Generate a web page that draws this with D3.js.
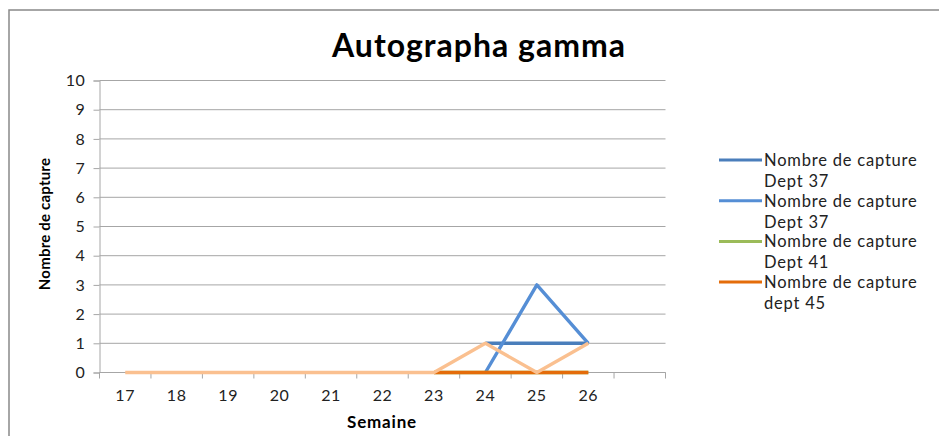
<!DOCTYPE html>
<html><head><meta charset="utf-8">
<script src="https://cdn.jsdelivr.net/npm/d3@7/dist/d3.min.js"></script>
<style>body{margin:0;background:#fff}</style>
</head><body>
<svg id="c" width="939" height="436"></svg>
<script>
const categories = ["17","18","19","20","21","22","23","24","25","26",""];
const yTicks = [0,1,2,3,4,5,6,7,8,9,10];
const dept37a = [null,null,null,null,null,null,null,1,1,1,null];
const dept37b = [null,null,null,null,null,null,null,0,3,1,null];
const dept41  = [null,null,null,null,null,null,0,0,0,0,null];
const dept45  = [null,null,null,null,null,null,0,0,0,0,null];
const extra   = [0,0,0,0,0,0,0,1,0,1,null];
const seriesNames = ["Nombre de capture|Dept 37","Nombre de capture|Dept 37","Nombre de capture|Dept 41","Nombre de capture|dept 45"];
const colors = ["#4A7EBB","#558ED5","#9BBB59","#E46C0A","#FAC090"];

const svg = d3.select("#c");
const font = "Lato, 'Open Sans', sans-serif";
svg.append("rect").attr("x",9).attr("y",10).attr("width",940).attr("height",440)
  .attr("fill","#fff").attr("stroke","#898989").attr("stroke-width",1.5);

const x = d3.scaleBand().domain(categories).range([99.5,665.5]);
const y = d3.scaleLinear().domain([0,10]).range([372.5,80.5]);

svg.append("g").selectAll("line").data(yTicks).join("line")
  .attr("x1",99.5).attr("x2",665.5).attr("y1",d=>y(d)).attr("y2",d=>y(d))
  .attr("stroke","#A6A6A6").attr("stroke-width",1);

const ya = svg.append("g").attr("transform","translate(99.5,0)")
  .call(d3.axisLeft(y).tickValues(yTicks).tickSize(6).tickPadding(8));
ya.select(".domain").attr("stroke","#A6A6A6");
ya.selectAll(".tick line").attr("stroke","#A6A6A6");
ya.selectAll("text").attr("font-family",font).attr("font-size",16).attr("letter-spacing",0.6).attr("fill","#222");

const xa = svg.append("g").attr("transform","translate(0,372.5)")
  .call(d3.axisBottom(x).tickSize(0).tickPadding(17));
xa.select(".domain").remove();
xa.selectAll("text").attr("font-family",font).attr("font-size",16).attr("letter-spacing",0.6).attr("fill","#222");
const bounds = categories.map(c=>x(c)).concat([x(categories[categories.length-1])+x.bandwidth()]);
svg.append("g").selectAll("line").data(bounds).join("line")
  .attr("x1",d=>d).attr("x2",d=>d).attr("y1",372.5).attr("y2",378.5)
  .attr("stroke","#A6A6A6");
svg.append("line").attr("x1",99.5).attr("x2",665.5).attr("y1",372.5).attr("y2",372.5).attr("stroke","#A6A6A6");

const line = d3.line().defined(d=>d.v!==null).x(d=>x(d.c)+x.bandwidth()/2).y(d=>y(d.v));
[dept37a,dept37b,dept41,dept45,extra].forEach((s,i)=>{
  svg.append("path").datum(s.map((v,j)=>({c:categories[j],v})))
    .attr("d",line).attr("fill","none").attr("stroke",colors[i]).attr("stroke-width",3.4)
    .attr("stroke-linejoin","round");
});

svg.append("text").attr("x",479).attr("y",57).attr("text-anchor","middle")
  .attr("font-family",font).attr("font-weight","bold").attr("font-size",32).attr("letter-spacing",1).attr("fill","#000")
  .text("Autographa gamma");
svg.append("text").attr("transform","translate(50,224) rotate(-90)").attr("text-anchor","middle")
  .attr("font-family",font).attr("font-weight","bold").attr("font-size",15).attr("letter-spacing",0.2).text("Nombre de capture");
svg.append("text").attr("x",382).attr("y",428).attr("text-anchor","middle")
  .attr("font-family",font).attr("font-weight","bold").attr("font-size",17).attr("letter-spacing",0.8).text("Semaine");

const lg = svg.append("g");
seriesNames.forEach((n,i)=>{
  const yy = 160 + i*40.7;
  lg.append("line").attr("x1",719).attr("x2",762).attr("y1",yy).attr("y2",yy)
    .attr("stroke",colors[i]).attr("stroke-width",3);
  const parts = n.split("|");
  const t = lg.append("text").attr("font-family",font).attr("font-size",16.5).attr("letter-spacing",0.8).attr("fill","#222");
  t.append("tspan").attr("x",764).attr("y",yy+6).text(parts[0]);
  t.append("tspan").attr("x",764).attr("y",yy+27).text(parts[1]);
});
</script>
</body></html>
